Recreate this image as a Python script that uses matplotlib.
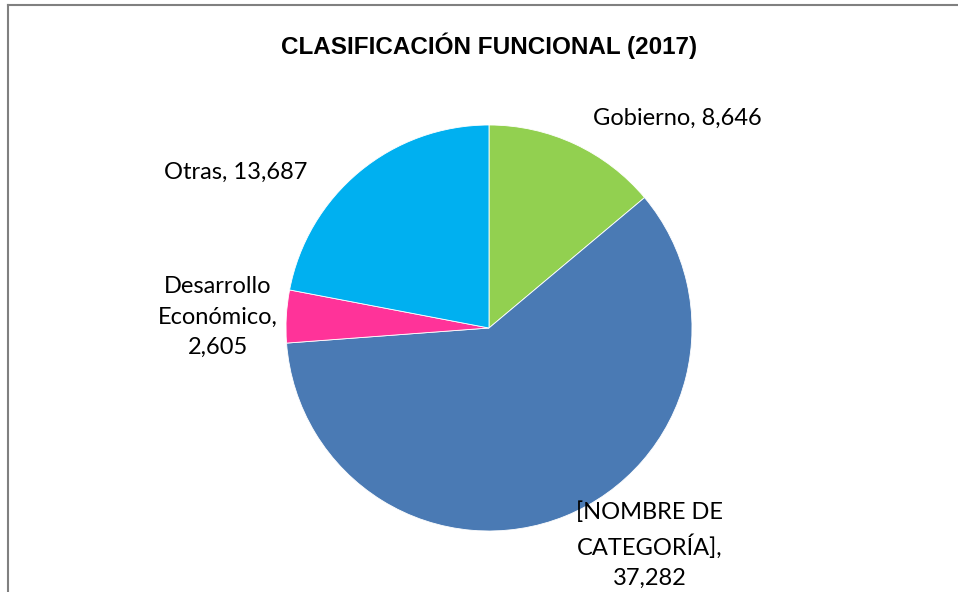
import matplotlib
matplotlib.use("Agg")
import matplotlib.pyplot as plt
from matplotlib.lines import Line2D

# Data
categories = ["Gobierno", "[NOMBRE DE\nCATEGORÍA]", "Desarrollo\nEconómico", "Otras"]
values = [8646, 37282, 2605, 13687]
value_labels = ["8,646", "37,282", "2,605", "13,687"]
label_texts = ["Gobierno, 8,646", "[NOMBRE DE\nCATEGORÍA],\n37,282",
               "Desarrollo\nEconómico,\n2,605", "Otras, 13,687"]
colors = ["#92D050", "#4A7AB4", "#FF3399", "#00B0F0"]

W, H = 958, 592
fig = plt.figure(figsize=(W / 100, H / 100), dpi=100)
fig.patch.set_facecolor("white")

# pie area: center (489, 328) px, radius 203 px
cx, cy, r = 489, 328, 203
ax = fig.add_axes([(cx - r) / W, (H - cy - r) / H, 2 * r / W, 2 * r / H])
ax.pie(values, colors=colors, startangle=90, counterclock=False, radius=1,
       wedgeprops=dict(edgecolor="white", linewidth=0.6))
ax.set_xlim(-1, 1)
ax.set_ylim(-1, 1)
ax.set_aspect("equal")
ax.axis("off")

# data label positions (in pie units, radius = 1)
label_pos = [(0.926, 1.034), (0.793, -1.069), (-1.335, 0.054), (-1.246, 0.768)]
lab_font = ["Lato", "DejaVu Sans"]
for (x, y), txt in zip(label_pos, label_texts):
    ax.text(x, y, txt, ha="center", va="center", fontsize=17,
            family=lab_font, color="#000000", linespacing=1.55, clip_on=False)

fig.text(489 / W, 1 - 46 / H, "CLASIFICACIÓN FUNCIONAL (2017)",
         ha="center", va="center", fontsize=17.5, fontweight="bold",
         family=["Liberation Sans Narrow", "Liberation Sans"], color="#000000")

# outer chart border (top and left visible)
fig.add_artist(Line2D([8 / W, 1], [1 - 4.5 / H, 1 - 4.5 / H], transform=fig.transFigure,
                      color="#808080", linewidth=1.5))
fig.add_artist(Line2D([8 / W, 8 / W], [0, 1 - 4.5 / H], transform=fig.transFigure,
                      color="#808080", linewidth=1.5))

fig.savefig("out.png", dpi=100, facecolor="white")
